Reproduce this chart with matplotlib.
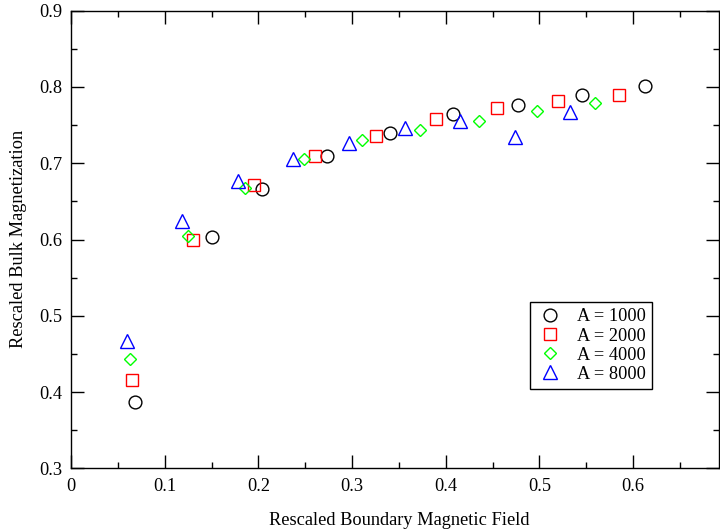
import matplotlib
matplotlib.use("Agg")
import matplotlib.pyplot as plt
from matplotlib.ticker import MultipleLocator

plt.rcParams['font.family'] = ['Liberation Serif', 'DejaVu Serif']

x_1000 = [0.068, 0.150, 0.204, 0.273, 0.340, 0.408, 0.477, 0.545, 0.613]
y_1000 = [0.387, 0.603, 0.666, 0.710, 0.740, 0.764, 0.777, 0.790, 0.801]

x_2000 = [0.065, 0.130, 0.195, 0.260, 0.325, 0.390, 0.455, 0.520, 0.585]
y_2000 = [0.416, 0.600, 0.671, 0.710, 0.736, 0.758, 0.773, 0.781, 0.790]

x_4000 = [0.063, 0.125, 0.186, 0.249, 0.311, 0.372, 0.435, 0.497, 0.559]
y_4000 = [0.443, 0.604, 0.668, 0.705, 0.730, 0.743, 0.755, 0.769, 0.779]

x_8000 = [0.060, 0.119, 0.178, 0.237, 0.297, 0.356, 0.415, 0.474, 0.533]
y_8000 = [0.467, 0.624, 0.677, 0.706, 0.726, 0.746, 0.756, 0.734, 0.767]

labels = ["A = 1000", "A = 2000", "A = 4000", "A = 8000"]
xticks = [0, 0.1, 0.2, 0.3, 0.4, 0.5, 0.6]
xticklabels = ["0", "0.1", "0.2", "0.3", "0.4", "0.5", "0.6"]
yticks = [0.3, 0.4, 0.5, 0.6, 0.7, 0.8, 0.9]
yticklabels = ["0.3", "0.4", "0.5", "0.6", "0.7", "0.8", "0.9"]

fs = 13.2

fig = plt.figure(figsize=(7.2, 5.31), dpi=100)
ax = fig.add_axes([71/720, 62.7/531, 648/720, 457.6/531])

lw = 1.0
ax.plot(x_1000, y_1000, linestyle='none', marker='o', ms=9.2, mfc='none', mec='black', mew=lw, label=labels[0])
ax.plot(x_2000, y_2000, linestyle='none', marker='s', ms=8.4, mfc='none', mec='#ff0000', mew=lw, label=labels[1])
ax.plot(x_4000, y_4000, linestyle='none', marker='D', ms=6.6, mfc='none', mec='#00ff00', mew=lw, label=labels[2])
ax.plot(x_8000, y_8000, linestyle='none', marker='^', ms=9.4, mfc='none', mec='#0000ff', mew=lw, label=labels[3])

ax.set_xlim(0, 0.6916)
ax.set_ylim(0.3, 0.9)
ax.set_xticks(xticks)
ax.set_xticklabels(xticklabels)
ax.set_yticks(yticks)
ax.set_yticklabels(yticklabels)
ax.xaxis.set_minor_locator(MultipleLocator(0.05))
ax.yaxis.set_minor_locator(MultipleLocator(0.05))
ax.tick_params(which='both', direction='in', top=True, right=True, width=1.0, labelsize=fs)
ax.tick_params(which='major', length=9.5)
ax.tick_params(which='minor', length=4.5)
ax.tick_params(axis='x', pad=7)
ax.tick_params(axis='y', pad=6)
for s in ax.spines.values():
    s.set_linewidth(1.0)

fig.text(399/720, 1 - 520.5/531, "Rescaled Boundary Magnetic Field", ha='center', va='center', fontsize=fs)
fig.text(18.3/720, 1 - 238.5/531, "Rescaled Bulk Magnetization", ha='center', va='center', rotation=90, fontsize=fs)

leg = ax.legend(loc='lower left', bbox_to_anchor=(0.709, 0.1726), borderaxespad=0,
                frameon=True, fancybox=False, edgecolor='black', fontsize=fs,
                handlelength=1.4, handletextpad=0.8, labelspacing=0.12, borderpad=0.35,
                framealpha=1)
leg.get_frame().set_linewidth(1.0)

fig.savefig("out.png", dpi=100)
